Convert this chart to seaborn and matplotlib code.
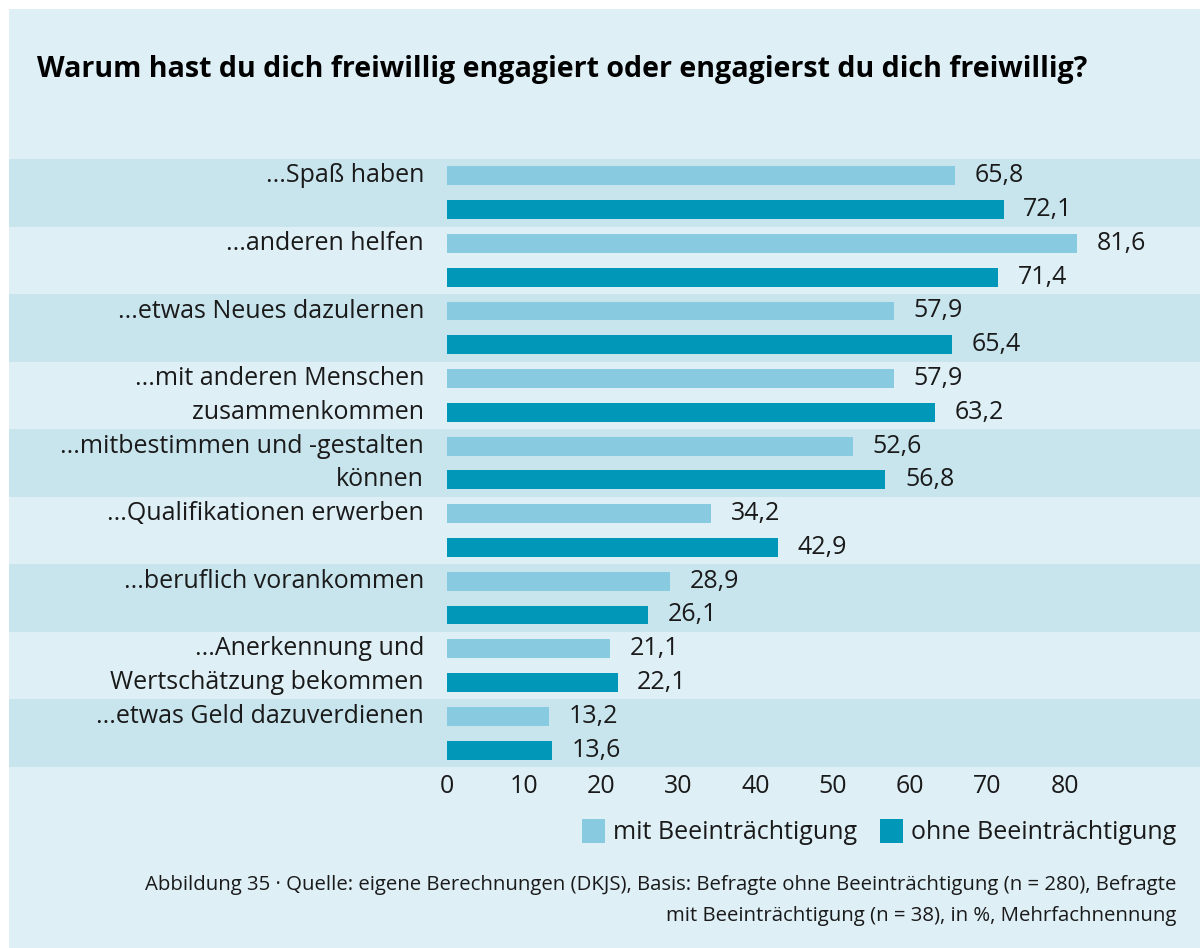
import matplotlib
matplotlib.use("Agg")
import matplotlib.pyplot as plt
from matplotlib.patches import Rectangle
import seaborn as sns
import pandas as pd

# Survey answers, in display order
categories = [
    "...Spaß haben",
    "...anderen helfen",
    "...etwas Neues dazulernen",
    "...mit anderen Menschen\nzusammenkommen",
    "...mitbestimmen und -gestalten\nkönnen",
    "...Qualifikationen erwerben",
    "...beruflich vorankommen",
    "...Anerkennung und\nWertschätzung bekommen",
    "...etwas Geld dazuverdienen",
]
groups = ["mit Beeinträchtigung", "ohne Beeinträchtigung"]
mit_values = [65.8, 81.6, 57.9, 57.9, 52.6, 34.2, 28.9, 21.1, 13.2]
ohne_values = [72.1, 71.4, 65.4, 63.2, 56.8, 42.9, 26.1, 22.1, 13.6]
x_ticks = [0, 10, 20, 30, 40, 50, 60, 70, 80]

title = "Warum hast du dich freiwillig engagiert oder engagierst du dich freiwillig?"
caption_lines = [
    "Abbildung 35 · Quelle: eigene Berechnungen (DKJS), Basis: Befragte ohne Beeinträchtigung (n = 280), Befragte",
    "mit Beeinträchtigung (n = 38), in %, Mehrfachnennung",
]

df = pd.DataFrame({
    "Kategorie": categories * 2,
    "Gruppe": [groups[0]] * len(categories) + [groups[1]] * len(categories),
    "Wert": mit_values + ohne_values,
})

PANEL = "#deeff6"
BAND = "#c8e5ee"
LIGHT = "#88cbe0"
DARK = "#0097b9"
TEXT = "#1a1a1a"
FS = 18

sns.set_theme(style="white")
plt.rcParams["font.family"] = ["Open Sans", "DejaVu Sans"]

W, H = 1200, 948
fig = plt.figure(figsize=(W / 100, H / 100), dpi=100, facecolor="white")
fig.patches.append(Rectangle((9 / W, 0), 1 - 9 / W, 1 - 9 / H,
                             transform=fig.transFigure, facecolor=PANEL,
                             edgecolor="none", zorder=-10))

ax_left, ax_right = 9 / W, 1.0
ax_top, ax_bottom = 1 - 159 / H, 1 - 767 / H
ax = fig.add_axes([ax_left, ax_bottom, ax_right - ax_left, ax_top - ax_bottom])
ax.set_facecolor("none")

# horizontal scale: zero sits at x=447 px, ~7.72 px per percent point
px_per_unit = 7.72
zero_px = 447 - 9
width_px = W - 9
xmin = -zero_px / px_per_unit
xmax = (width_px - zero_px) / px_per_unit

sns.barplot(data=df, y="Kategorie", x="Wert", hue="Gruppe", orient="h",
            palette=[LIGHT, DARK], width=1.0, gap=0.44, ax=ax,
            errorbar=None, saturation=1.0, legend=True, zorder=2,
            linewidth=0, edgecolor="none")

for i in range(len(categories)):
    if i % 2 == 0:
        ax.axhspan(i - 0.5, i + 0.5, color=BAND, zorder=0, lw=0)

ax.set_xlim(xmin, xmax)
ax.set_ylim(len(categories) - 0.5, -0.5)

for cont in ax.containers:
    ax.bar_label(cont, fmt=lambda v: f"{v:.1f}".replace(".", ","),
                 padding=14, fontsize=FS, color=TEXT)

# category labels: first line beside the light bar, second beside the dark bar
label_x = (424 - 447) / px_per_unit
for i, lab in enumerate(categories):
    lines = lab.split("\n")
    for j, line in enumerate(lines):
        ax.text(label_x, i - 0.25 + 0.5 * j, line, ha="right", va="center",
                fontsize=FS, color=TEXT)

ax.set_yticks([])
ax.set_xticks(x_ticks)
ax.set_xticklabels([str(t) for t in x_ticks], fontsize=FS, color=TEXT)
ax.tick_params(axis="x", length=0, pad=5)
ax.set_xlabel("")
ax.set_ylabel("")
for s in ax.spines.values():
    s.set_visible(False)

old = ax.get_legend()
handles = old.legend_handles
leg = ax.legend(handles=handles, labels=groups, ncol=2, frameon=False,
                loc="center right", bbox_to_anchor=(1176 / W, 1 - 832 / H),
                bbox_transform=fig.transFigure, fontsize=FS,
                handlelength=0.95, handleheight=1.1, handletextpad=0.3,
                columnspacing=0.9, borderpad=0, borderaxespad=0)
for h in leg.legend_handles:
    h.set_edgecolor("none")
for t in leg.get_texts():
    t.set_color(TEXT)

fig.text(37 / W, 1 - 70 / H, title, ha="left", va="center",
         fontsize=20.6, fontweight="bold", color="black")

fig.text(1176 / W, 1 - 885 / H, caption_lines[0], ha="right", va="center",
         fontsize=14.7, color=TEXT)
fig.text(1176 / W, 1 - 916 / H, caption_lines[1], ha="right", va="center",
         fontsize=14.7, color=TEXT)

fig.savefig("out.png", dpi=100, facecolor="white")
